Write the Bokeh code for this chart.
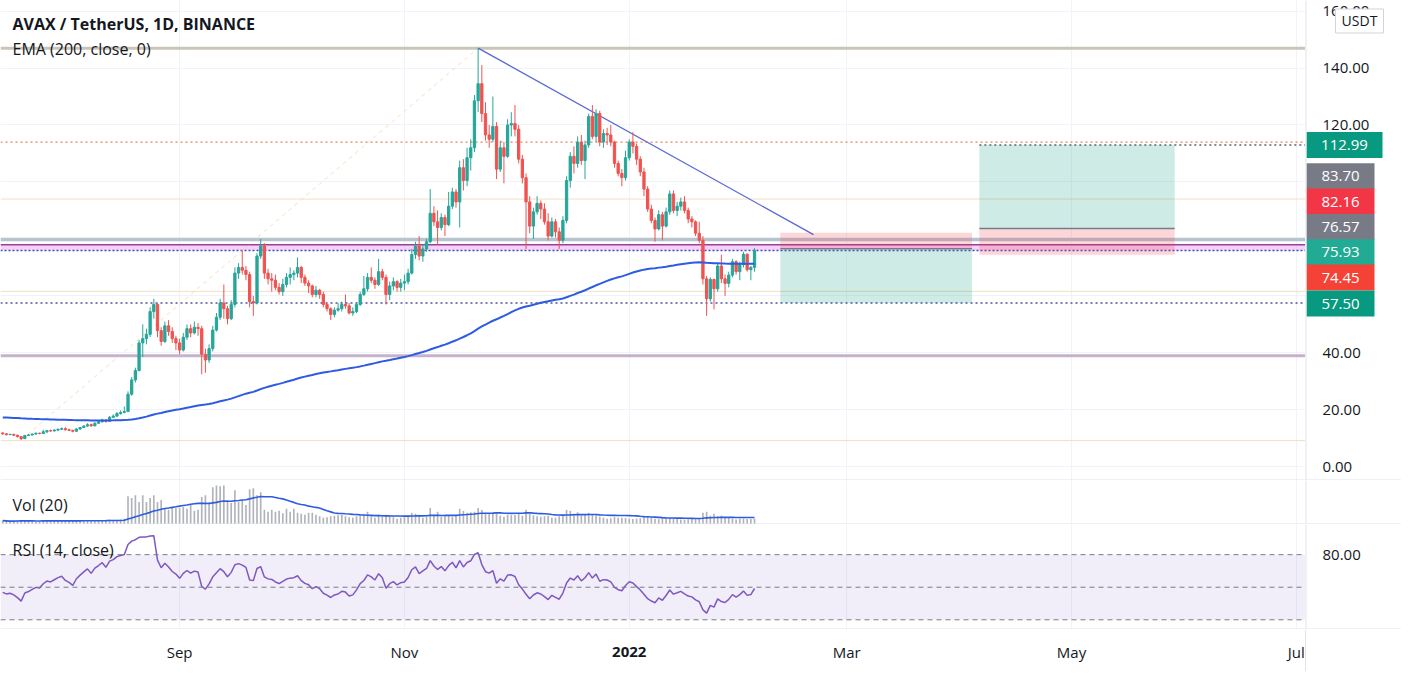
import pandas as pd
from bokeh.plotting import figure
from bokeh.layouts import column, row
from bokeh.models import Range1d, FixedTicker, Span, BoxAnnotation, Label, ColumnDataSource
from bokeh.core.properties import value
from bokeh.embed import file_html
from bokeh.resources import INLINE

FONT = "Open Sans"
TXT = "#131722"
SEP = "#e0e3eb"
GRID = "#f0f3fa"
UP = "#26a69a"
DOWN = "#ef5350"

# ---------------- data (AVAX / USDT daily) ----------------
start_date = "2021-07-15"
first_open = 11.9

close_jul = [11.6, 11.3, 11.4, 11.1, 10.6, 9.9, 11.0, 11.2, 11.5, 11.8, 11.7, 12.3, 12.7, 12.6, 12.9, 13.2, 13.4]
high_jul = [12.1, 11.8, 11.6, 11.6, 11.2, 10.7, 11.2, 11.5, 11.7, 12.0, 12.0, 13.0, 12.9, 13.1, 13.2, 13.4, 13.8]
low_jul = [11.2, 11.0, 11.1, 10.9, 10.3, 9.4, 9.8, 10.8, 11.0, 11.3, 11.4, 11.6, 11.8, 12.3, 12.4, 12.5, 13.0]

close_aug = [13.0, 12.8, 12.5, 13.3, 13.8, 14.3, 14.8, 14.4, 15.3, 15.8, 16.4, 16.0, 17.4, 17.8, 18.7, 19.1, 19.4, 25.5, 30.5, 33.8,
             43.5, 45.0, 46.5, 54.5, 57.0, 47.8, 44.0, 49.5, 47.5, 45.0, 43.5]
high_aug = [13.9, 13.4, 13.0, 13.5, 14.0, 14.6, 15.3, 15.2, 15.6, 16.2, 16.9, 16.6, 17.8, 18.4, 19.2, 19.8, 21.2, 26.5, 31.5, 34.8,
            44.5, 50.0, 48.5, 56.0, 59.0, 57.5, 49.0, 51.0, 51.5, 49.0, 46.0]
low_aug = [12.8, 12.5, 12.1, 12.3, 13.0, 13.6, 14.1, 14.0, 14.2, 15.1, 15.6, 15.5, 15.9, 17.2, 17.5, 18.3, 18.8, 19.2, 25.0, 29.6,
           33.5, 38.5, 43.0, 45.5, 52.0, 45.5, 42.5, 43.5, 46.0, 43.5, 41.0]

close_sep = [41.0, 45.5, 48.5, 47.0, 49.0, 48.5, 39.5, 37.5, 41.5, 48.0, 52.5, 57.5, 55.5, 52.0, 57.0, 68.0, 70.0, 69.0, 67.5, 58.0,
             57.5, 74.0, 77.5, 68.0, 66.0, 65.5, 63.0, 61.5, 64.0, 66.5]
high_sep = [45.0, 47.0, 50.0, 50.0, 51.0, 50.5, 49.5, 41.5, 43.0, 49.5, 54.0, 59.0, 64.0, 56.5, 58.5, 70.0, 71.5, 76.0, 70.5, 68.5,
            60.0, 75.0, 80.0, 78.5, 69.5, 68.0, 67.5, 64.5, 66.0, 68.0]
low_sep = [39.5, 40.5, 44.5, 45.5, 46.5, 46.0, 32.5, 33.0, 36.5, 40.5, 47.5, 51.5, 52.0, 50.0, 51.5, 56.0, 66.0, 67.5, 65.5, 56.0,
           53.0, 57.0, 73.0, 66.0, 64.0, 61.5, 62.0, 60.5, 60.0, 63.0]

close_oct = [67.5, 68.0, 70.0, 66.5, 64.5, 63.5, 60.5, 62.0, 60.5, 57.0, 55.5, 53.5, 55.0, 55.5, 57.0, 56.5, 54.0, 54.5, 57.0, 60.5,
             62.5, 66.5, 65.5, 64.0, 68.5, 66.5, 60.5, 63.5, 65.0, 63.0, 64.5]
high_oct = [70.0, 69.0, 73.5, 70.5, 67.5, 65.5, 64.0, 63.5, 62.5, 61.5, 57.5, 56.0, 56.0, 57.5, 58.0, 60.5, 57.5, 56.0, 57.5, 61.5,
            67.0, 68.0, 70.0, 66.5, 73.0, 69.5, 67.5, 65.0, 66.5, 65.5, 66.0]
low_oct = [64.0, 65.5, 66.5, 64.5, 63.5, 61.0, 59.5, 59.5, 59.0, 56.0, 54.5, 51.5, 52.5, 54.5, 54.5, 55.5, 53.5, 53.0, 54.0, 56.5,
           60.0, 61.5, 64.5, 62.5, 63.5, 65.5, 57.0, 58.5, 62.0, 61.5, 61.5]

close_nov = [65.0, 68.0, 74.5, 77.5, 74.0, 76.5, 79.0, 89.0, 86.0, 84.0, 87.5, 85.0, 91.5, 96.5, 93.0, 105.0, 100.5, 108.5, 112.0, 128.5,
             134.5, 124.0, 116.5, 115.0, 119.5, 104.5, 112.0, 109.0, 120.0, 120.5]
high_nov = [67.5, 69.5, 76.5, 79.0, 81.0, 78.0, 80.0, 97.5, 91.5, 90.0, 89.0, 88.5, 96.5, 98.0, 97.5, 107.5, 108.0, 112.0, 115.0, 130.5,
            147.0, 141.0, 128.0, 120.0, 130.0, 121.0, 114.5, 114.0, 122.0, 124.5]
low_nov = [62.0, 64.0, 67.5, 73.0, 72.5, 72.0, 75.5, 78.5, 84.5, 78.0, 83.0, 81.0, 84.5, 90.5, 91.0, 84.0, 97.0, 98.5, 104.0, 110.5,
           124.5, 121.0, 114.5, 112.0, 114.0, 101.0, 103.5, 99.5, 108.5, 116.0]

close_dec = [118.5, 108.0, 101.5, 93.0, 84.5, 89.5, 92.5, 90.5, 86.0, 81.0, 86.0, 82.5, 79.5, 86.5, 100.5, 109.0, 106.5, 114.0, 107.5, 113.0,
             123.0, 116.0, 124.0, 114.0, 117.0, 116.5, 114.0, 106.5, 103.0, 101.5, 108.5]
high_dec = [127.0, 120.0, 109.5, 103.0, 95.0, 91.0, 95.0, 93.5, 92.5, 89.0, 87.5, 87.0, 84.0, 88.0, 102.0, 110.5, 112.5, 116.0, 116.5, 114.5,
            124.0, 127.0, 125.5, 125.0, 118.5, 119.0, 120.0, 114.5, 107.5, 104.5, 111.0]
low_dec = [116.0, 106.5, 99.5, 76.5, 82.0, 80.0, 88.5, 87.0, 85.0, 79.5, 80.5, 80.5, 76.5, 78.5, 85.5, 98.0, 103.0, 105.0, 106.0, 101.0,
           112.0, 115.0, 114.0, 112.5, 112.0, 113.0, 112.5, 105.0, 102.0, 98.5, 100.5]

close_jan = [114.0, 112.5, 108.0, 103.5, 97.5, 90.5, 86.5, 83.5, 88.5, 84.5, 89.5, 95.8, 90.0, 91.5, 93.0, 90.0, 87.0, 86.0, 82.0, 79.5,
             66.0, 59.0, 65.8, 62.5, 70.5, 66.0, 64.4, 67.3, 72.0, 68.5, 71.0]
high_jan = [115.0, 117.5, 113.5, 109.0, 105.0, 98.5, 92.0, 87.5, 90.0, 89.5, 91.0, 97.0, 97.0, 93.0, 94.5, 95.0, 91.0, 88.0, 86.5, 86.0,
            81.0, 67.0, 66.5, 66.0, 71.5, 74.5, 67.5, 68.5, 73.0, 72.5, 72.0]
low_jan = [107.5, 110.0, 106.0, 102.0, 95.0, 89.5, 85.5, 79.0, 83.0, 79.5, 84.0, 88.5, 89.0, 88.0, 90.0, 89.0, 85.5, 84.0, 81.0, 78.5,
           64.0, 53.0, 58.0, 55.3, 61.5, 64.5, 60.0, 63.0, 66.5, 67.5, 65.5]

close_feb = [74.6, 69.2, 70.0, 75.93]
high_feb = [75.5, 75.0, 70.5, 76.8]
low_feb = [70.0, 68.5, 65.5, 68.5]

vol_jul = [4.0, 3.5, 3.0, 3.2, 4.0, 4.5, 4.2, 3.5, 3.2, 3.0, 3.3, 4.5, 4.2, 3.6, 3.8, 3.9, 3.6]
vol_aug = [3.8, 3.9, 3.6, 3.7, 4.0, 4.2, 4.4, 3.9, 4.6, 4.3, 4.5, 4.0, 5.2, 4.4, 4.8, 5.0, 6.0, 29.0, 27.0, 30.0,
           23.0, 30.0, 23.0, 27.0, 30.0, 23.0, 25.0, 17.0, 15.0, 17.0, 17.0]
vol_sep = [17, 18, 16, 20, 14, 15, 28, 30, 23, 38, 40, 39, 40, 25, 22, 35, 23, 25, 20, 36,
           37, 30, 33, 15, 13, 15, 13, 14, 11.5, 16]
vol_oct = [13, 16, 12, 11, 10, 12, 12, 10, 8.5, 7, 7.5, 8.5, 9, 9.5, 10, 8.5, 7.5, 7, 8.5, 8.5,
           10, 13, 8.5, 7, 10, 8.5, 10, 8.5, 7.5, 6, 7]
vol_nov = [7.5, 9, 12, 11, 10, 7, 8, 17, 10, 13, 8, 9, 9.5, 8, 9.5, 16, 14, 12, 12.5, 13,
           17, 15, 11.5, 11.5, 11.5, 12.5, 9, 8, 10, 9.5]
vol_dec = [10, 11, 9, 15, 11, 9.5, 8.5, 8, 8.5, 9, 7, 7, 8.5, 9, 15, 14, 11, 12.5, 9, 10,
           12, 10, 9.5, 8, 7, 6, 6.5, 7.5, 7, 7, 6.5]
vol_jan = [6, 5.5, 6, 6.5, 8, 8.5, 7, 6, 5.5, 6.5, 6, 7, 6.5, 5.5, 5, 5, 5.5, 5.5, 5.5, 6,
           12, 13, 9, 11, 8.5, 9, 7, 6.5, 6, 5, 6]
vol_feb = [6, 5.5, 5.5, 6]

ema_seed = 17.4
rsi_seed_gain = 0.35
rsi_seed_loss = 0.40

# horizontal drawings
hline_prices = [146.9, 114.0, 94.0, 79.8, 78.0, 61.6, 57.5, 39.0, 9.2]
hline_colors = ["#cbc5b8", "#e8845e", "#f4e0c2", "#b8c4cd", "#9c3f98", "#f4e0c2", "#4d519e", "#c6b2cc", "#f4e0c2"]
hline_widths = [3, 1.4, 1, 3.5, 1.5, 1, 1.6, 3, 1]
hline_dashes = ["solid", "2 3", "solid", "solid", "solid", "solid", "2 3", "solid", "solid"]
band_low, band_high = 76.0, 78.0
last_price = 75.93

trend_dates = ["2021-11-21", "2022-02-20"]
trend_prices = [147.0, 81.5]
fib_dates = ["2021-07-20", "2021-11-21"]
fib_prices = [9.4, 147.0]

short_dates = ["2022-02-11", "2022-04-04"]
short_stop, short_entry, short_target = 82.16, 76.57, 57.50
long_dates = ["2022-04-06", "2022-05-29"]
long_stop, long_entry, long_target = 74.45, 83.70, 112.99

price_ticks = [0, 20, 40, 120, 140, 160]
rsi_ticks = [80]
tag_texts = ["112.99", "83.70", "82.16", "76.57", "75.93", "74.45", "57.50"]
tag_colors = ["#089981", "#787b86", "#f23645", "#787b86", "#22ab94", "#f44336", "#089981"]
tag_slots = [112.99, 102.0, 93.1, 84.2, 75.35, 66.45, 57.3]

tick_dates = ["2021-09-01", "2021-11-01", "2022-01-01", "2022-03-01", "2022-05-01", "2022-07-01"]
tick_labels = ["Sep", "Nov", "2022", "Mar", "May", "Jul"]
tick_bold = [False, False, True, False, False, False]

# ---------------- assemble ----------------
close = close_jul + close_aug + close_sep + close_oct + close_nov + close_dec + close_jan + close_feb
high = high_jul + high_aug + high_sep + high_oct + high_nov + high_dec + high_jan + high_feb
low = low_jul + low_aug + low_sep + low_oct + low_nov + low_dec + low_jan + low_feb
volume = vol_jul + vol_aug + vol_sep + vol_oct + vol_nov + vol_dec + vol_jan + vol_feb
opens = [first_open] + close[:-1]

REF = pd.Timestamp("2021-09-01")
def day(s):
    return float((pd.Timestamp(s) - REF).days)

dates = pd.date_range(start_date, periods=len(close), freq="D")
x = [float((d - REF).days) for d in dates]

k = 2.0 / 201.0
ema, e = [], ema_seed
for c in close:
    e = e + k * (c - e)
    ema.append(e)

rsi, ag, al, pc = [], rsi_seed_gain, rsi_seed_loss, first_open
for c in close:
    ch = c - pc
    ag = (ag * 13 + max(ch, 0.0)) / 14.0
    al = (al * 13 + max(-ch, 0.0)) / 14.0
    rsi.append(100.0 - 100.0 / (1.0 + ag / al))
    pc = c

vol_ma = pd.Series(volume).rolling(20, min_periods=1).mean().tolist()

colors = [UP if c >= o else DOWN for o, c in zip(opens, close)]
src = ColumnDataSource(dict(x=x, o=opens, h=high, l=low, c=close,
                            top=[max(a, b) for a, b in zip(opens, close)],
                            bot=[min(a, b) for a, b in zip(opens, close)],
                            col=colors, vol=volume, vma=vol_ma, ema=ema, rsi=rsi))

# ---------------- geometry ----------------
PW = 1305          # pane (plot area) width
SW = 96            # price-scale column width
MAIN_H, VOL_H, RSI_H, AX_H = 480, 44, 105, 42
X0 = day(start_date) - 0.6
X1 = day("2022-07-03") + 0.5
xr = Range1d(X0, X1)
ticks = [day(t) for t in tick_dates]
Y0, Y1 = -4.8, 163.7
R0, R1 = 11.05, 107.8


def ref_px_to_price(ypx):
    return (478.0 - ypx) / 2.92


def pane(h, yr):
    f = figure(width=PW, height=h, x_range=xr, y_range=yr, output_backend="svg",
               toolbar_location=None, x_axis_location=None, y_axis_location=None,
               min_border_left=0, min_border_right=0, min_border_top=0, min_border_bottom=0)
    f.background_fill_color = "white"
    f.border_fill_color = "white"
    f.outline_line_color = None
    f.xgrid.ticker = FixedTicker(ticks=ticks)
    f.xgrid.grid_line_color = GRID
    f.ygrid.visible = False
    return f


def scale(h, yr):
    f = figure(width=SW, height=h, x_range=Range1d(0, SW), y_range=yr, output_backend="svg",
               toolbar_location=None, x_axis_location=None, y_axis_location=None,
               min_border_left=0, min_border_right=0, min_border_top=0, min_border_bottom=0)
    f.background_fill_color = "white"
    f.border_fill_color = "white"
    f.outline_line_color = None
    f.grid.visible = False
    f.add_layout(Span(location=0, dimension="height", line_color=SEP, line_width=2))
    f.add_layout(Span(location=yr.start, dimension="width", line_color=SEP, line_width=2))
    return f


def tick_text(f, vals, fmt):
    f.text(x=[17] * len(vals), y=vals, text=[fmt.format(v) for v in vals],
           text_font=value(FONT), text_font_size=value("15px"), text_color=TXT,
           text_align="left", text_baseline="middle")


# ---------------- main pane ----------------
yr_main = Range1d(Y0, Y1)
p = pane(MAIN_H, yr_main)
p.ygrid.visible = True
p.ygrid.ticker = FixedTicker(ticks=[0, 20, 40, 60, 80, 100, 120, 140, 160])
p.ygrid.grid_line_color = GRID

p.add_layout(BoxAnnotation(bottom=band_low, top=band_high, fill_color="#efb8ee", fill_alpha=0.65,
                           line_color=None, level="underlay"))
for yv, colr, lw, dash in zip(hline_prices, hline_colors, hline_widths, hline_dashes):
    p.add_layout(Span(location=yv, dimension="width", line_color=colr, line_width=lw,
                      line_dash=dash, level="underlay"))
p.add_layout(Span(location=last_price, dimension="width", line_color="#4148c8", line_width=1.5,
                  line_dash="2 2", level="underlay"))
p.add_layout(Span(location=Y0, dimension="width", line_color=SEP, line_width=2))

p.line([day(d) for d in fib_dates], fib_prices, line_color="#f3c089", line_alpha=0.35,
       line_width=1.2, line_dash="4 4")
p.line([day(d) for d in trend_dates], trend_prices, line_color="#5667d6", line_width=1.3)

sl, sr = day(short_dates[0]), day(short_dates[1])
ll, lr = day(long_dates[0]), day(long_dates[1])
p.quad(left=[sl], right=[sr], bottom=[short_entry], top=[short_stop], fill_color="#f23645",
       fill_alpha=0.2, line_color=None)
p.quad(left=[sl], right=[sr], bottom=[short_target], top=[short_entry], fill_color="#089981",
       fill_alpha=0.2, line_color=None)
p.quad(left=[ll], right=[lr], bottom=[long_entry], top=[long_target], fill_color="#089981",
       fill_alpha=0.2, line_color=None)
p.quad(left=[ll], right=[lr], bottom=[long_stop], top=[long_entry], fill_color="#f23645",
       fill_alpha=0.2, line_color=None)
p.segment(x0=[ll], y0=[long_entry], x1=[lr], y1=[long_entry], line_color="#787b86", line_width=1.5)
p.segment(x0=[sl], y0=[short_entry], x1=[sr], y1=[short_entry], line_color="#787b86", line_width=1.2)
p.segment(x0=[ll], y0=[long_target], x1=[X1], y1=[long_target], line_color="#5d6070",
          line_width=1.4, line_dash="2 3")

p.segment(x0="x", y0="l", x1="x", y1="h", line_color="col", line_width=1, source=src)
p.vbar(x="x", width=0.62, top="top", bottom="bot", fill_color="col", line_color="col", source=src)
p.line("x", "ema", line_color="#2d5be3", line_width=2, source=src)

p.add_layout(Label(x=X0, x_offset=12, y=ref_px_to_price(24), text="AVAX / TetherUS, 1D, BINANCE",
                   text_font=FONT, text_font_size="16px", text_font_style="bold", text_color=TXT,
                   text_baseline="middle"))
p.add_layout(Label(x=X0, x_offset=12, y=ref_px_to_price(50), text="EMA (200, close, 0)",
                   text_font=FONT, text_font_size="16px", text_color=TXT, text_baseline="middle"))

s1 = scale(MAIN_H, yr_main)
tick_text(s1, price_ticks, "{:.2f}")
# USDT badge (covers the 160 label as in the original)
s1.rect(x=[54], y=[ref_px_to_price(21)], width=[48], height=[24], width_units="screen",
        height_units="screen", fill_color="white", line_color="#d1d4dc", line_width=1)
s1.text(x=[54], y=[ref_px_to_price(21)], text=["USDT"], text_font=value(FONT),
        text_font_size=value("14px"), text_color=TXT, text_align="center", text_baseline="middle")
tag_w = [76 if len(t) > 5 else 68 for t in tag_texts]
s1.rect(x=[1 + w / 2 for w in tag_w], y=tag_slots, width=tag_w, height=[26] * len(tag_w),
        width_units="screen", height_units="screen", fill_color=tag_colors, line_color=None)
s1.text(x=[1 + w / 2 for w in tag_w], y=tag_slots, text=tag_texts, text_font=value(FONT),
        text_font_size=value("15px"), text_color="white", text_align="center", text_baseline="middle")

# ---------------- volume pane ----------------
yr_vol = Range1d(0, 45)
pv = pane(VOL_H, yr_vol)
pv.vbar(x="x", width=0.45, top="vol", bottom=0, fill_color="#b0b3ba", line_color=None, source=src)
pv.line("x", "vma", line_color="#2d5be3", line_width=1.6, source=src)
pv.add_layout(Span(location=0, dimension="width", line_color=SEP, line_width=2))
pv.add_layout(Label(x=X0, x_offset=12, y=20, text="Vol (20)", text_font=FONT, text_font_size="16px",
                    text_color=TXT, text_baseline="middle"))
s2 = scale(VOL_H, yr_vol)

# ---------------- RSI pane ----------------
yr_rsi = Range1d(R0, R1)
pr = pane(RSI_H, yr_rsi)
pr.add_layout(BoxAnnotation(bottom=20, top=80, fill_color="#7e57c2", fill_alpha=0.1, line_color=None,
                            level="underlay"))
for lv in [80, 50, 20]:
    pr.add_layout(Span(location=lv, dimension="width", line_color="#787b86", line_width=1,
                       line_dash="5 4"))
pr.add_layout(Span(location=R0, dimension="width", line_color=SEP, line_width=2))
pr.line("x", "rsi", line_color="#7e57c2", line_width=1.5, source=src)
pr.add_layout(Label(x=X0, x_offset=12, y=84.5, text="RSI (14, close)", text_font=FONT,
                    text_font_size="16px", text_color=TXT, text_baseline="middle"))
s3 = scale(RSI_H, yr_rsi)
tick_text(s3, rsi_ticks, "{:.2f}")

# ---------------- time axis strip ----------------
XW = X0 + (X1 - X0) * (PW + SW) / PW
ax = figure(width=PW + SW, height=AX_H, x_range=Range1d(X0, XW), y_range=Range1d(0, AX_H),
            output_backend="svg", toolbar_location=None, x_axis_location=None, y_axis_location=None,
            min_border_left=0, min_border_right=0, min_border_top=0, min_border_bottom=0)
ax.background_fill_color = "white"
ax.border_fill_color = "white"
ax.outline_line_color = None
ax.grid.visible = False
ax.add_layout(Span(location=X1, dimension="height", line_color=SEP, line_width=1))
for bold in (False, True):
    sel = [i for i, b in enumerate(tick_bold) if b == bold]
    ax.text(x=[ticks[i] for i in sel], y=[20] * len(sel), text=[tick_labels[i] for i in sel],
            text_font=value(FONT), text_font_size=value("15px"),
            text_font_style="bold" if bold else "normal", text_color=TXT,
            text_align="center", text_baseline="middle")

layout = column(row(p, s1), row(pv, s2), row(pr, s3), ax)
open("out.html", "w").write(file_html(layout, INLINE))
